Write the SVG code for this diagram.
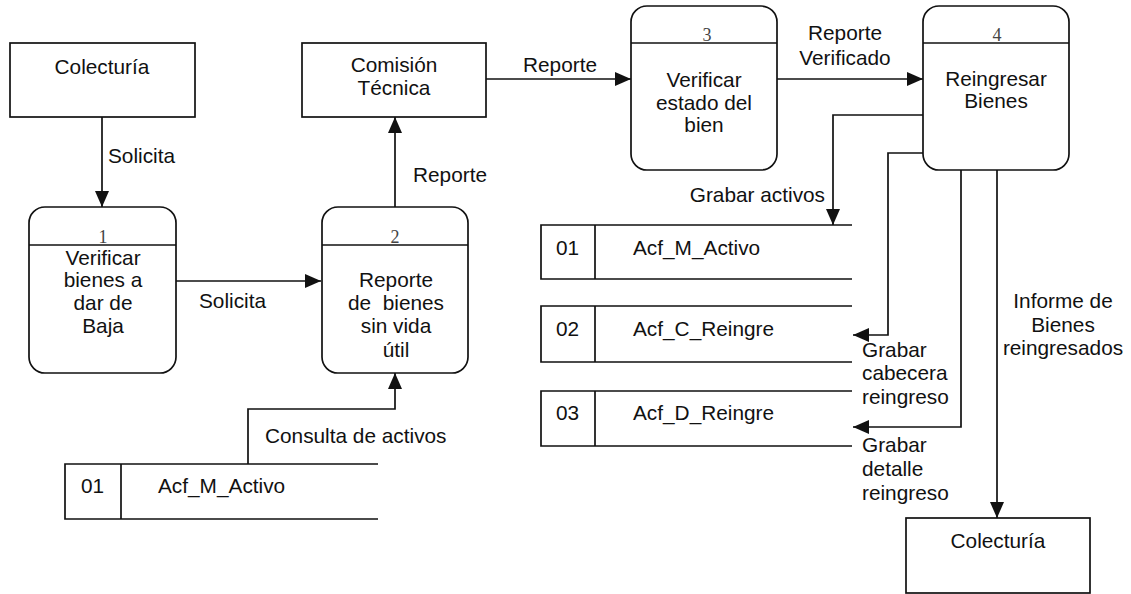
<svg xmlns="http://www.w3.org/2000/svg" width="1131" height="594" viewBox="0 0 1131 594">
<style>
.box{fill:#fff;stroke:#111;stroke-width:1.7}
.ln{fill:none;stroke:#111;stroke-width:1.7}
.t{font-family:"Liberation Sans",Arial,sans-serif;font-size:20.8px;fill:#111}
.c{text-anchor:middle}
.n{font-family:"Liberation Serif","Times New Roman",serif;font-size:18px;fill:#444;text-anchor:middle}
</style>
<defs>
<marker id="arr" viewBox="0 0 16 14" refX="16" refY="7" markerWidth="16" markerHeight="14" markerUnits="userSpaceOnUse" orient="auto"><path d="M0,0 L16,7 L0,14 z" fill="#111"/></marker>
</defs>
<rect width="1131" height="594" fill="#fff"/>
<g id="connectors">
<path class="ln" d="M102,117 V207" marker-end="url(#arr)"/>
<path class="ln" d="M176,281 H321" marker-end="url(#arr)"/>
<path class="ln" d="M395,207 V117" marker-end="url(#arr)"/>
<path class="ln" d="M486,79 H631" marker-end="url(#arr)"/>
<path class="ln" d="M777,79 H923" marker-end="url(#arr)"/>
<path class="ln" d="M248,464 V409 H395 V373" marker-end="url(#arr)"/>
<path class="ln" d="M923,115 H833 V225" marker-end="url(#arr)"/>
<path class="ln" d="M923,153 H888 V335 H853" marker-end="url(#arr)"/>
<path class="ln" d="M961,170 V427 H853" marker-end="url(#arr)"/>
<path class="ln" d="M997,170 V518" marker-end="url(#arr)"/>
<text class="t" x="108" y="163">Solicita</text>
<text class="t" x="199" y="308">Solicita</text>
<text class="t" x="413" y="182">Reporte</text>
<text class="t" x="523" y="72">Reporte</text>
<text class="t c" x="845" y="40">Reporte</text>
<text class="t c" x="845" y="65">Verificado</text>
<text class="t" x="265" y="443">Consulta de activos</text>
<text class="t" x="825" y="202" text-anchor="end">Grabar activos</text>
<text class="t" x="862" y="357">Grabar</text>
<text class="t" x="862" y="380">cabecera</text>
<text class="t" x="862" y="404">reingreso</text>
<text class="t" x="862" y="452">Grabar</text>
<text class="t" x="862" y="476">detalle</text>
<text class="t" x="862" y="500">reingreso</text>
<text class="t c" x="1063" y="308">Informe de</text>
<text class="t c" x="1063" y="332">Bienes</text>
<text class="t c" x="1063" y="355">reingresados</text>
</g>
<g id="colecturia1">
<rect class="box" x="10" y="43" width="185" height="74"/>
<text class="t c" x="102" y="74">Colecturía</text>
</g>
<g id="comision">
<rect class="box" x="302" y="43" width="184" height="74"/>
<text class="t c" x="394" y="72">Comisión</text>
<text class="t c" x="394" y="95">Técnica</text>
</g>
<g id="p1">
<rect class="box" x="29" y="207" width="147" height="166" rx="16"/>
<line class="ln" x1="29" y1="245" x2="176" y2="245"/>
<text class="n" x="103" y="243">1</text>
<text class="t c" x="103" y="265">Verificar</text>
<text class="t c" x="103" y="287">bienes a</text>
<text class="t c" x="103" y="310">dar de</text>
<text class="t c" x="103" y="333">Baja</text>
</g>
<g id="p2">
<rect class="box" x="322" y="207" width="146" height="166" rx="16"/>
<line class="ln" x1="322" y1="245" x2="468" y2="245"/>
<text class="n" x="395" y="243">2</text>
<text class="t c" x="396" y="287">Reporte</text>
<text class="t c" x="396" y="310" xml:space="preserve">de  bienes</text>
<text class="t c" x="396" y="333">sin vida</text>
<text class="t c" x="396" y="357">útil</text>
</g>
<g id="p3">
<rect class="box" x="631" y="6" width="146" height="164" rx="16"/>
<line class="ln" x1="631" y1="43" x2="777" y2="43"/>
<text class="n" x="707" y="41">3</text>
<text class="t c" x="704" y="87">Verificar</text>
<text class="t c" x="704" y="110">estado del</text>
<text class="t c" x="704" y="132">bien</text>
</g>
<g id="p4">
<rect class="box" x="923" y="6" width="146" height="164" rx="16"/>
<line class="ln" x1="923" y1="43" x2="1069" y2="43"/>
<text class="n" x="997" y="41">4</text>
<text class="t c" x="996" y="86">Reingresar</text>
<text class="t c" x="996" y="108">Bienes</text>
</g>
<g id="store01left">
<path class="ln" d="M378,464 H65 V519 H378 M121,464 V519"/>
<text class="t" x="81" y="493">01</text>
<text class="t" x="158" y="493">Acf_M_Activo</text>
</g>
<g id="store01">
<path class="ln" d="M852,225 H541 V279 H852 M595,225 V279"/>
<text class="t" x="556" y="255">01</text>
<text class="t" x="633" y="255">Acf_M_Activo</text>
</g>
<g id="store02">
<path class="ln" d="M852,306 H541 V362 H852 M595,306 V362"/>
<text class="t" x="556" y="336">02</text>
<text class="t" x="633" y="336">Acf_C_Reingre</text>
</g>
<g id="store03">
<path class="ln" d="M852,391 H541 V446 H852 M595,391 V446"/>
<text class="t" x="556" y="420">03</text>
<text class="t" x="633" y="420">Acf_D_Reingre</text>
</g>
<g id="colecturia2">
<rect class="box" x="906" y="518" width="184" height="75"/>
<text class="t c" x="998" y="548">Colecturía</text>
</g>
</svg>
